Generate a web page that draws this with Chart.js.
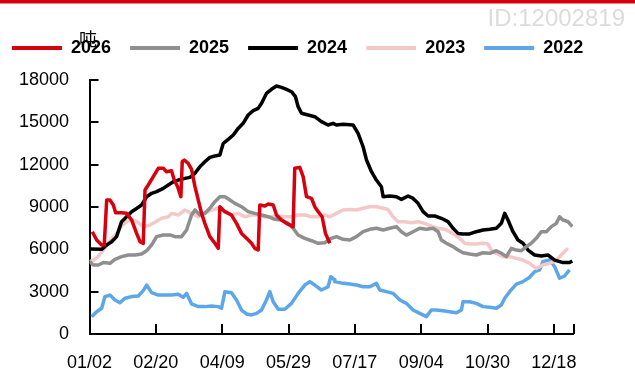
<!DOCTYPE html>
<html lang="zh">
<head>
<meta charset="UTF-8">
<title>季节性库存</title>
<script src="https://cdn.jsdelivr.net/npm/chart.js"></script>
<style>
  html, body { margin: 0; padding: 0; background: #fff; }
  canvas { display: block; }
</style>
</head>
<body>
<canvas id="seasonChart" width="635" height="376"></canvas>
<script>
// x is a day index from 01/02; tick labels sit every 49 steps
const xTickLabels = ['01/02', '02/20', '04/09', '05/29', '07/17', '09/04', '10/30', '12/18'];
const xStep = 49;
const xMax = 357.5;
const yTicks = [0, 3000, 6000, 9000, 12000, 15000, 18000];
const unitLabel = '吨';

const seriesNames = ['2026', '2025', '2024', '2023', '2022'];
const seriesColors = ['#d7000f', '#8f8f8f', '#000000', '#f5c8c8', '#5ca6ea'];

// [day, value]
const s2026 = [[2.1,7250],[5.3,6660],[9,6310],[10.9,6310],[12.7,9500],[15.1,9500],[17.6,9140],[19.3,8600],[23.7,8600],[27.4,8550],[31.1,8080],[34.8,7130],[37.3,6540],[39.7,6420],[41,10200],[43.4,10560],[47.1,11150],[50.8,11740],[54.5,11740],[56.9,11500],[60.6,11570],[62.6,10910],[65.1,10440],[67.5,9730],[68.5,12210],[70,12330],[72.9,12090],[75.4,11670],[77.9,10440],[80.3,9500],[82.8,8550],[85.2,7840],[88.9,6900],[92.6,6430],[95.1,6070],[96.3,9020],[100,8670],[104.9,8430],[108.6,7840],[112.3,7130],[116,6780],[119.7,6430],[122.1,6070],[124.6,5950],[125.8,9140],[129.5,9070],[132,9210],[135.7,9140],[138.1,8430],[141.8,8080],[145.5,7840],[150.4,7610],[151.6,11740],[155.3,11810],[157.8,11150],[160.3,9730],[164,9610],[166.4,9020],[168.9,8670],[171.8,8310],[174.3,7130],[177.5,6430]];

const s2025 = [[0,5130],[2.8,4890],[6.5,4890],[10.2,5060],[15.1,5010],[18.8,5290],[23.7,5480],[28.7,5600],[33.6,5600],[38.5,5670],[42.2,5900],[45.9,6310],[49.6,6900],[54.5,7020],[59.4,7020],[63.1,6900],[68,6900],[71.7,7370],[75.4,8440],[77.9,8790],[81.6,8440],[85.2,8550],[88.9,8910],[92.6,9380],[96.3,9730],[100,9730],[103.7,9500],[107.4,9260],[112.3,9020],[117.2,8670],[122.1,8550],[127.1,8430],[132,8310],[136.9,8130],[141.8,8080],[146.7,7840],[150.4,7490],[154.1,7020],[159,6780],[164,6610],[168.9,6430],[173.8,6470],[178.7,6780],[182.4,6900],[187.3,6710],[192.3,6660],[197.2,6900],[202.1,7250],[207,7420],[211.9,7490],[216.9,7370],[221.8,7490],[226.7,7610],[230.4,7250],[234.1,7010],[239,7250],[243.9,7490],[248.8,7420],[253.8,7490],[257.5,7250],[259.9,6660],[263.6,6430],[268.5,6190],[272.2,5950],[275.9,5760],[280.8,5670],[285.7,5600],[290.7,5760],[295.6,5720],[300.5,5900],[304.2,5720],[307.9,5480],[311.6,6070],[315.3,5950],[319,5900],[322.6,6190],[326.3,6430],[330,6780],[333.7,7250],[337.4,7250],[341.1,7610],[344.8,7840],[347.2,8310],[349.7,8080],[353.4,7960],[356.6,7610]];

const s2024 = [[0.4,6020],[9,6000],[12.7,6310],[16.4,6540],[20,6900],[23.7,7960],[27.4,8310],[31.1,8670],[34.8,8900],[38.5,9140],[42.2,9730],[45.9,9970],[49.6,10090],[54.5,10320],[58.2,10560],[61.9,10790],[65.6,10910],[70.5,11030],[74.2,11100],[77.9,11390],[81.6,11860],[85.2,12210],[88.9,12520],[92.6,12610],[96.3,12680],[98.8,13510],[102.5,13790],[106.2,14100],[109.8,14570],[113.5,14930],[117.2,15520],[120.9,15830],[124.6,15990],[127.1,16350],[130.7,17050],[134.4,17340],[138.1,17570],[141.8,17480],[145.5,17340],[149.2,17170],[152.1,16820],[154.1,16110],[156.6,15640],[161.5,15520],[166.4,15400],[171.3,15050],[176.2,14810],[179.9,14930],[182.4,14810],[187.3,14860],[194.7,14810],[198.4,14220],[202.1,13270],[204.6,12330],[208.3,11500],[211.9,10910],[215.6,10440],[216.9,9730],[221.8,9780],[226.7,9730],[230.4,9540],[235.3,9780],[239,9610],[242.7,9260],[246.4,8670],[250.1,8360],[255,8360],[259.9,8200],[264.8,7960],[268.5,7490],[272.2,7130],[275.9,7090],[280.8,7090],[285.7,7250],[290.7,7370],[295.6,7420],[300.5,7490],[304.2,7840],[306.7,8550],[309.1,8080],[312.8,7250],[316.5,6660],[320.2,6430],[323.9,5950],[328.8,5600],[333.7,5530],[338.6,5600],[343.6,5240],[349.7,5060],[354.6,5060],[356.6,5170]];

const s2023 = [[0,5120],[3,5240],[6,5450],[9,5800],[12,6200],[16,6700],[20,7100],[24,7700],[28,8000],[32,8100],[36,7900],[40,7600],[44,7700],[48,7900],[53.3,8200],[58.2,8310],[60.6,8550],[65.6,8430],[70.5,8790],[75.4,8550],[80.3,8310],[85.2,8550],[90.2,8790],[95.1,8910],[100,8670],[104.9,8430],[109.8,8550],[114.8,8310],[119.7,8430],[124.6,8430],[129.5,8310],[134.4,8310],[139.4,8360],[144.3,8310],[149.2,8310],[154.1,8430],[159,8430],[164,8310],[168.9,8310],[173.8,8430],[177.5,8310],[182.4,8550],[187.3,8790],[192.3,8830],[197.2,8790],[202.1,8910],[207,9020],[211.9,9020],[216.9,8910],[220.5,8830],[224.2,8310],[227.9,7960],[232.9,7960],[237.8,7890],[242.7,7960],[247.6,7840],[252.5,7650],[257.5,7490],[262.4,7420],[266.1,7250],[269.8,7010],[273.4,6780],[277.1,6430],[280.8,6380],[285.7,6380],[290.7,6430],[294.3,6380],[296.8,5950],[300.5,5720],[305.4,5480],[310.3,5480],[315.3,5360],[320.2,5240],[325.1,5010],[330,4650],[334.9,4890],[339.9,5010],[344.8,5240],[349.7,5720],[353.4,6070]];

const s2022 = [[1.6,1230],[5.3,1580],[9,1820],[11.4,2650],[15.1,2760],[18.8,2410],[22.5,2220],[26.2,2530],[31.1,2650],[36,2690],[39.7,3070],[42.2,3470],[45.9,2930],[50.8,2760],[55.7,2760],[60.6,2760],[65.6,2810],[69.2,2600],[71.7,2880],[75.4,2130],[80.3,1940],[85.2,1940],[90.2,1980],[95.1,1940],[97.5,1820],[100,3000],[104.9,2930],[108.6,2410],[112.3,1700],[116,1420],[119.7,1350],[123.4,1460],[127.1,1700],[130.7,2410],[133.2,3000],[135.7,2290],[139.4,1750],[144.3,1750],[149.2,2170],[154.1,2880],[159,3470],[162.7,3710],[166.4,3470],[171.3,3120],[176.2,3350],[178.2,4060],[180.6,3870],[181.2,3710],[187.3,3590],[192.3,3540],[197.2,3470],[202.1,3350],[207,3350],[211.9,3590],[214.4,3120],[219.3,3000],[224.2,2880],[229.2,2410],[234.1,2170],[239,1700],[243.9,1460],[248.8,1230],[252.5,1700],[256.2,1700],[261.1,1650],[266.1,1580],[271,1510],[274.7,1700],[275.9,2290],[280.8,2290],[285.7,2170],[290.7,1940],[295.6,1890],[300.5,1820],[304.2,2060],[306.7,2530],[310.3,3000],[315.3,3540],[320.2,3710],[325.1,4020],[328.8,4420],[332.5,4540],[334.9,5120],[339.9,5240],[343.6,4770],[347.2,3950],[350.9,4110],[354.6,4540]];

const seriesData = [s2026, s2025, s2024, s2023, s2022];

const labelFont = { family: '"Liberation Sans", Arial, sans-serif', size: 18 };
const topPad = 20;
const plotTop = 80;

// red strip, watermark and unit text
const decorations = {
  id: 'decorations',
  beforeDraw(chart) {
    const ctx = chart.ctx;
    ctx.save();
    ctx.fillStyle = '#d7000f';
    ctx.fillRect(0, 0, chart.width, 3.5);
    ctx.fillStyle = '#dcdcdc';
    ctx.font = '24px "Liberation Sans", Arial, sans-serif';
    ctx.textAlign = 'right';
    ctx.textBaseline = 'alphabetic';
    ctx.fillText('ID:12002819', 625, 26);
    ctx.restore();
  },
  afterDraw(chart) {
    const ctx = chart.ctx;
    ctx.save();
    ctx.fillStyle = '#000';
    ctx.font = '18px "Noto Sans CJK SC", sans-serif';
    ctx.textAlign = 'center';
    ctx.textBaseline = 'middle';
    ctx.fillText(unitLabel, 88, 39.5);
    ctx.restore();
  }
};

// keep the legend box tall enough that the plot starts at plotTop
const legendSpace = {
  id: 'legendSpace',
  beforeLayout(chart) {
    const legend = chart.legend;
    if (legend && !legend._fixedHeight) {
      const fit = legend.fit;
      legend.fit = function () {
        fit.call(this);
        this.height = plotTop - topPad;
      };
      legend._fixedHeight = true;
    }
  }
};

// tick marks drawn on the inside of both axes
const innerTicks = {
  id: 'innerTicks',
  afterDatasetsDraw(chart) {
    const { ctx, chartArea, scales } = chart;
    ctx.save();
    ctx.strokeStyle = '#000';
    ctx.lineWidth = 2;
    ctx.beginPath();
    scales.x.ticks.forEach(t => {
      const px = Math.round(scales.x.getPixelForValue(t.value));
      ctx.moveTo(px, chartArea.bottom);
      ctx.lineTo(px, chartArea.bottom - 10);
    });
    scales.y.ticks.forEach(t => {
      const py = Math.round(scales.y.getPixelForValue(t.value));
      ctx.moveTo(chartArea.left, py);
      ctx.lineTo(chartArea.left + 9, py);
    });
    ctx.stroke();
    ctx.restore();
  }
};

const ctx = document.getElementById('seasonChart').getContext('2d');
const chart = new Chart(ctx, {
  type: 'line',
  data: {
    datasets: seriesNames.map((name, i) => ({
      label: name,
      data: seriesData[i].map(([x, y]) => ({ x, y })),
      borderColor: seriesColors[i],
      backgroundColor: seriesColors[i],
      borderWidth: 3.5,
      pointRadius: 0,
      tension: 0,
      borderJoinStyle: 'round',
      fill: false
    }))
  },
  options: {
    responsive: false,
    devicePixelRatio: 1,
    animation: false,
    layout: { padding: { left: -7, top: topPad, right: 0, bottom: 0 } },
    plugins: {
      tooltip: { enabled: false },
      legend: {
        position: 'top',
        align: 'start',
        labels: {
          boxWidth: 50,
          boxHeight: 4,
          padding: 19,
          color: '#000',
          font: { family: '"Liberation Sans", Arial, sans-serif', size: 18, weight: 'bold' },
          generateLabels: c => Chart.defaults.plugins.legend.labels.generateLabels(c)
            .map(l => ({ ...l, lineWidth: 0, fillStyle: l.strokeStyle }))
        }
      }
    },
    scales: {
      x: {
        type: 'linear',
        min: 0,
        max: xMax,
        grid: { display: false },
        border: { display: true, color: '#000', width: 2 },
        afterBuildTicks: scale => {
          scale.ticks = xTickLabels.map((_, i) => ({ value: i * xStep }))
            .concat([{ value: xMax }]);
        },
        afterFit: scale => {
          scale.height = 42;
          scale.paddingRight = 61.5;
        },
        ticks: {
          autoSkip: false,
          maxRotation: 0,
          padding: 10,
          color: '#000',
          font: labelFont,
          callback: v => {
            const i = Math.round(v / xStep);
            return (v % xStep === 0 && xTickLabels[i]) ? xTickLabels[i] : '';
          }
        }
      },
      y: {
        min: 0,
        max: 18000,
        grid: { display: false },
        border: { display: true, color: '#000', width: 2 },
        afterBuildTicks: scale => {
          scale.ticks = yTicks.map(v => ({ value: v }));
        },
        afterFit: scale => {
          scale.width = 96.5;
        },
        ticks: {
          padding: 12.5,
          color: '#000',
          font: labelFont,
          callback: v => String(v)
        }
      }
    }
  },
  plugins: [legendSpace, decorations, innerTicks]
});
</script>
</body>
</html>
